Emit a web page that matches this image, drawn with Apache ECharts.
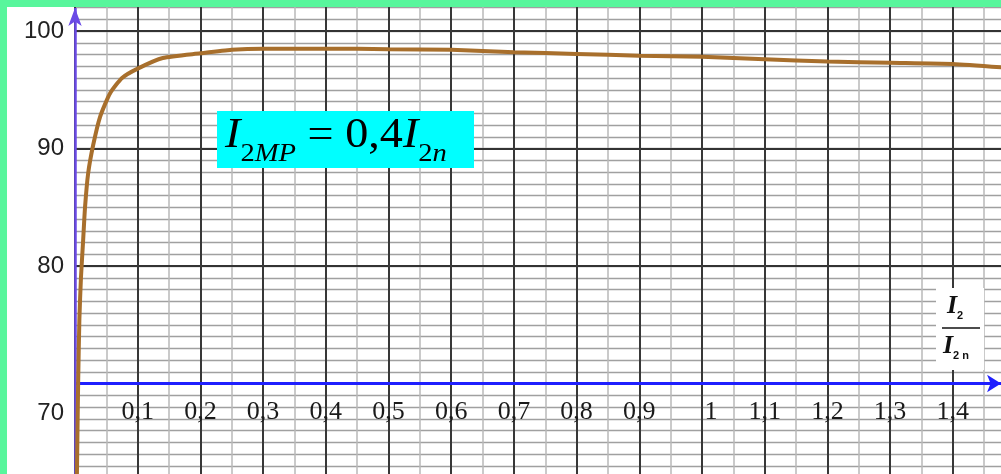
<!DOCTYPE html>
<html><head><meta charset="utf-8">
<script src="https://cdn.jsdelivr.net/npm/echarts@6/dist/echarts.min.js"></script>
<style>html,body{margin:0;padding:0;background:#fff}#c{width:1001px;height:474px}</style>
</head><body><div id="c"></div>
<script>
// Data
const ratio = [0.003, 0.005, 0.007, 0.0095, 0.013, 0.016, 0.021, 0.029, 0.04, 0.056, 0.075, 0.1, 0.14, 0.2, 0.25, 0.3, 0.4, 0.5, 0.6, 0.7, 0.8, 0.9, 1.0, 1.1, 1.2, 1.3, 1.4, 1.48];
const efficiency = [62, 70, 75.5, 79, 82.2, 85, 87.9, 90.3, 92.7, 94.7, 96, 96.8, 97.7, 98.1, 98.4, 98.5, 98.5, 98.45, 98.4, 98.2, 98.05, 97.9, 97.8, 97.6, 97.4, 97.3, 97.2, 96.9];
const xTickLabels = ['0,1','0,2','0,3','0,4','0,5','0,6','0,7','0,8','0,9','1','1,1','1,2','1,3','1,4'];
const yTickLabels = {70:'70', 80:'80', 90:'90', 100:'100'};

const chart = echarts.init(document.getElementById('c'), null, {renderer:'canvas'});
const serif = '"Liberation Serif", "DejaVu Serif", serif';
const sans = '"Liberation Sans", Arial, sans-serif';

const option = {
  animation: false,
  backgroundColor: '#fff',
  grid: {left: 75, top: -86.5, width: 940.5, height: 587.5, containLabel: false, outerBoundsMode: 'none'},
  xAxis: [
    {type:'value', min:0, max:1.5, interval:0.05, position:'top', z:1,
     axisLine:{show:false}, axisTick:{show:false}, axisLabel:{show:false},
     splitLine:{show:true, lineStyle:{color:'#b8b8b8', width:1.5}}},
    {type:'value', min:0, max:1.5, interval:0.1, position:'bottom', offset:-118, z:2,
     axisLine:{show:false}, axisTick:{show:false},
     axisLabel:{show:true, margin:16, fontFamily:serif, fontSize:26, color:'#1a1a1a',
       formatter: function(v){
         const i = Math.round(v*10) - 1;
         if (Math.abs(v*10 - Math.round(v*10)) > 1e-6 || i < 0 || i >= xTickLabels.length) return '';
         const s = xTickLabels[i];
         if (s.indexOf(',') < 0) return '{p|' + s + '}';
         return s;
       },
       rich:{p:{fontFamily:serif, fontSize:26, color:'#1a1a1a', padding:[0,0,0,18]}}},
     splitLine:{show:true, lineStyle:{color:'#383838', width:2}}}
  ],
  yAxis: [
    {type:'value', min:60, max:110, interval:1, position:'right', z:1,
     axisLine:{show:false}, axisTick:{show:false}, axisLabel:{show:false},
     splitLine:{show:true, lineStyle:{color:'#a0a0a0', width:1.3}}},
    {type:'value', min:60, max:110, interval:10, position:'left', z:2,
     axisLine:{show:false}, axisTick:{show:false},
     axisLabel:{show:true, margin:11, fontFamily:sans, fontSize:24, color:'#222',
       formatter: function(v){
         const s = yTickLabels[v];
         if (!s) return '';
         if (v === 70) return '{d|' + s + '}';
         return s;
       },
       rich:{d:{fontFamily:sans, fontSize:24, color:'#222', padding:[60,0,0,0]}}},
     splitLine:{show:true, lineStyle:{color:'#333', width:2}}}
  ],
  series: [{
    type:'line', xAxisIndex:1, yAxisIndex:1, z:5,
    data: ratio.map((x,i)=>[x, efficiency[i]]),
    smooth:0.2, showSymbol:false, silent:true,
    lineStyle:{color:'#a86f2c', width:4},
    markLine:{
      silent:true, animation:false, label:{show:false},
      data:[
        [{coord:[0,70], symbol:'none'}, {coord:[1.477,70], symbol:'arrow', symbolSize:[13,14],
          lineStyle:{color:'#1f1fff', width:3, type:'solid'}}],
        [{coord:[0,60], symbol:'none'}, {coord:[0,101.95], symbol:'arrow', symbolSize:[10,18],
          lineStyle:{color:'#6a4ae6', width:2.5, type:'solid'}}]
      ]
    }
  }],
  graphic: [
    {type:'rect', z:100, shape:{x:0,y:0,width:1001,height:7}, style:{fill:'#58f69c'}},
    {type:'rect', z:100, shape:{x:0,y:0,width:7,height:474}, style:{fill:'#58f69c'}},
    {type:'rect', z:50, shape:{x:217,y:111,width:257,height:57}, style:{fill:'#00ffff'}},
    {type:'text', z:51, x:225, y:115, scaleX:1.1, style:{
      text:'{I|I}{s|2}{si|MP}{e| = 0,4}{I|I}{s|2}{si|n}',
      rich:{
        I:{fontFamily:serif, fontStyle:'italic', fontSize:42, lineHeight:46, verticalAlign:'top', fill:'#000'},
        e:{fontFamily:serif, fontSize:42, lineHeight:46, verticalAlign:'top', fill:'#000'},
        s:{fontFamily:serif, fontSize:26, lineHeight:22, verticalAlign:'bottom', fill:'#000'},
        si:{fontFamily:serif, fontStyle:'italic', fontSize:26, lineHeight:22, verticalAlign:'bottom', fill:'#000'},
        gap:{lineHeight:52, fontSize:10, verticalAlign:'top'}
      }
    }},
    {type:'rect', z:50, shape:{x:936,y:288,width:48,height:82}, style:{fill:'#fff'}},
    {type:'text', z:51, x:947, y:293, style:{
      text:'{I|I}{s|2}',
      rich:{I:{fontFamily:serif, fontStyle:'italic', fontWeight:'bold', fontSize:26, lineHeight:28, verticalAlign:'top', fill:'#111'},
            s:{fontFamily:sans, fontWeight:'bold', fontSize:11, lineHeight:12, verticalAlign:'bottom', fill:'#111'}}
    }},
    {type:'line', z:51, shape:{x1:942,y1:328,x2:980,y2:328}, style:{stroke:'#111', lineWidth:1.5}},
    {type:'text', z:51, x:943, y:333, style:{
      text:'{I|I}{s|2 n}',
      rich:{I:{fontFamily:serif, fontStyle:'italic', fontWeight:'bold', fontSize:26, lineHeight:28, verticalAlign:'top', fill:'#111'},
            s:{fontFamily:sans, fontWeight:'bold', fontSize:11, lineHeight:12, verticalAlign:'bottom', fill:'#111'}}
    }}
  ]
};
// lower the subscripts: make the line taller than the main glyphs
option.graphic[3].style.text = '{gap|}' + option.graphic[3].style.text;
chart.setOption(option);
</script></body></html>
